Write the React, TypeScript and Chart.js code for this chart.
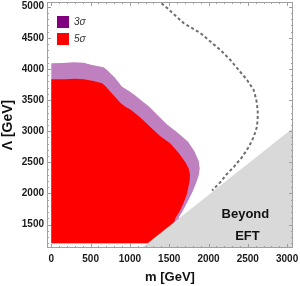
import { useEffect, useRef } from 'react';
import { Chart, registerables } from 'chart.js';

Chart.register(...registerables);

// ---- data ----
const xTickValues = [0, 500, 1000, 1500, 2000, 2500, 3000];
const yTickValues = [1500, 2000, 2500, 3000, 3500, 4000, 4500, 5000];

const legendLabels = ['3σ', '5σ'];

// 3σ region boundary (m, Λ) in GeV
const sigma3Mass = [0, 0, 150, 284, 411, 518, 666, 709, 815, 900, 984, 1060, 1150, 1250, 1350, 1473, 1600, 1740, 1820, 1875, 1888, 1875, 1840, 1791, 1727, 1663, 1621, 1700, 1700];
const sigma3Lambda = [1200, 4092, 4098, 4108, 4102, 4065, 4027, 3984, 3850, 3715, 3650, 3580, 3490, 3390, 3260, 3110, 2985, 2830, 2680, 2520, 2400, 2290, 2160, 2010, 1850, 1700, 1618, 1400, 1200];

// 5σ region boundary
const sigma5Mass = [0, 0, 178, 305, 411, 539, 645, 687, 772, 878, 942, 1006, 1133, 1260, 1387, 1515, 1621, 1706, 1748, 1765, 1760, 1740, 1727, 1690, 1640, 1578, 1560, 1300];
const sigma5Lambda = [1200, 3834, 3834, 3844, 3834, 3806, 3769, 3726, 3608, 3457, 3392, 3350, 3220, 3069, 2920, 2802, 2650, 2500, 2400, 2300, 2200, 2080, 2000, 1870, 1730, 1600, 1520, 1200];

// dashed contour
const dashedMass = [1349, 1473, 1684, 1897, 2024, 2151, 2278, 2384, 2491, 2575, 2609, 2626, 2626, 2616, 2575, 2512, 2427, 2321, 2237, 2151, 2046];
const dashedLambda = [5113, 4979, 4737, 4576, 4440, 4306, 4145, 3984, 3823, 3661, 3500, 3339, 3210, 3069, 2908, 2747, 2585, 2424, 2318, 2182, 2048];

// "Beyond EFT" boundary
const eftMass = [1000, 3200];
const eftLambda = [975, 3175];

// annotation text positions (data coords)
const annotationText = ['Beyond', 'EFT'];
const annotationMass = [2469, 2495];
const annotationLambda = [1661, 1306];

const pts = (xs: number[], ys: number[]) => xs.map((x, i) => ({ x, y: ys[i] }));

const PURPLE_FILL = '#bf80bf';
const PURPLE = '#800080';
const RED = '#ff0000';
const GRAY = '#d9d9d9';
const FRAME = '#a0a0a0';
const FONT = "'Liberation Sans', Arial, sans-serif";

const framePlugin = {
  id: 'frameTicks',
  afterDatasetsDraw(chart: any) {
    const { ctx, chartArea: a, scales } = chart;
    const xs = scales.x;
    const ys = scales.y;
    ctx.save();
    ctx.strokeStyle = FRAME;
    ctx.lineWidth = 1;
    ctx.strokeRect(a.left + 0.5, a.top + 0.5, a.right - a.left - 1, a.bottom - a.top - 1);
    ctx.beginPath();
    for (let v = Math.ceil(xs.min / 100) * 100; v <= xs.max; v += 100) {
      const p = Math.round(xs.getPixelForValue(v)) + 0.5;
      const len = v % 500 === 0 ? 4 : 2;
      ctx.moveTo(p, a.bottom);
      ctx.lineTo(p, a.bottom - len);
      ctx.moveTo(p, a.top);
      ctx.lineTo(p, a.top + len);
    }
    for (let v = Math.ceil(ys.min / 100) * 100; v <= ys.max; v += 100) {
      const p = Math.round(ys.getPixelForValue(v)) + 0.5;
      const len = v % 500 === 0 ? 4 : 2;
      ctx.moveTo(a.left, p);
      ctx.lineTo(a.left + len, p);
      ctx.moveTo(a.right, p);
      ctx.lineTo(a.right - len, p);
    }
    ctx.stroke();

    // annotation
    ctx.fillStyle = '#111';
    ctx.font = `bold 13px ${FONT}`;
    ctx.textAlign = 'center';
    ctx.textBaseline = 'middle';
    annotationText.forEach((t, i) => {
      ctx.fillText(t, xs.getPixelForValue(annotationMass[i]), ys.getPixelForValue(annotationLambda[i]));
    });

    // legend
    const colors = [PURPLE, RED];
    ctx.font = `italic 10px ${FONT}`;
    ctx.textAlign = 'left';
    legendLabels.forEach((t, i) => {
      const bx = a.left + 10;
      const by = a.top + 14 + i * 17;
      ctx.fillStyle = colors[i];
      ctx.fillRect(bx, by, 12, 12);
      ctx.fillStyle = '#333';
      ctx.fillText(t, bx + 17, by + 6.5);
    });
    ctx.restore();
  },
};

export default function App() {
  const ref = useRef<HTMLCanvasElement | null>(null);
  useEffect(() => {
    if (!ref.current) return;
    const tickFont = { family: FONT, size: 10, weight: 'bold' as const };
    const chart = new Chart(ref.current, {
      type: 'scatter',
      data: {
        datasets: [
          {
            label: 'contour',
            data: pts(dashedMass, dashedLambda),
            showLine: true,
            borderColor: '#6e6e6e',
            borderWidth: 2,
            borderDash: [3, 2.5],
            pointRadius: 0,
            fill: false,
          },
          {
            label: 'Beyond EFT',
            data: pts(eftMass, eftLambda),
            showLine: true,
            borderWidth: 0,
            pointRadius: 0,
            backgroundColor: GRAY,
            fill: 'start',
          },
          {
            label: legendLabels[1],
            data: pts(sigma5Mass, sigma5Lambda),
            showLine: true,
            borderWidth: 0,
            pointRadius: 0,
            backgroundColor: RED,
            fill: 'shape',
          },
          {
            label: legendLabels[0],
            data: pts(sigma3Mass, sigma3Lambda),
            showLine: true,
            borderWidth: 0,
            pointRadius: 0,
            backgroundColor: PURPLE_FILL,
            fill: 'shape',
          },
        ] as any,
      },
      options: {
        animation: false,
        responsive: false,
        events: [],
        layout: { padding: { top: 2, right: 7, left: 0, bottom: 0 } },
        plugins: { legend: { display: false }, tooltip: { enabled: false } },
        scales: {
          x: {
            type: 'linear',
            min: -55,
            max: 3075,
            grid: { display: false, drawTicks: false },
            border: { display: false },
            ticks: { font: tickFont, color: '#1a1a1a', padding: 5, includeBounds: false, maxRotation: 0, callback: (v: any) => String(v) },
            afterBuildTicks: (s: any) => { s.ticks = xTickValues.map((v) => ({ value: v })); },
            afterFit: (s: any) => { s.height = 38; s.paddingLeft = 0; s.paddingRight = 0; },
            title: { display: true, text: 'm [GeV]', color: '#111', font: { family: FONT, size: 13, weight: 'bold' }, padding: { top: 0, bottom: 1 } },
          },
          y: {
            type: 'linear',
            min: 1124,
            max: 5076,
            grid: { display: false, drawTicks: false },
            border: { display: false },
            ticks: { font: tickFont, color: '#1a1a1a', padding: 3, includeBounds: false, callback: (v: any) => String(v) },
            afterBuildTicks: (s: any) => { s.ticks = yTickValues.map((v) => ({ value: v })); },
            afterFit: (s: any) => { s.width = 47; s.paddingTop = 0; s.paddingBottom = 0; },
            title: { display: true, text: 'Λ [GeV]', color: '#111', font: { family: FONT, size: 14, weight: 'bold' }, padding: { top: 0, bottom: 0 } },
          },
        },
      } as any,
      plugins: [framePlugin],
    });
    return () => chart.destroy();
  }, []);
  return (
    <div style={{ position: 'fixed', left: 0, top: 0, width: 300, height: 286, background: '#fff' }}>
      <canvas ref={ref} width={300} height={286} style={{ display: 'block' }} />
    </div>
  );
}
